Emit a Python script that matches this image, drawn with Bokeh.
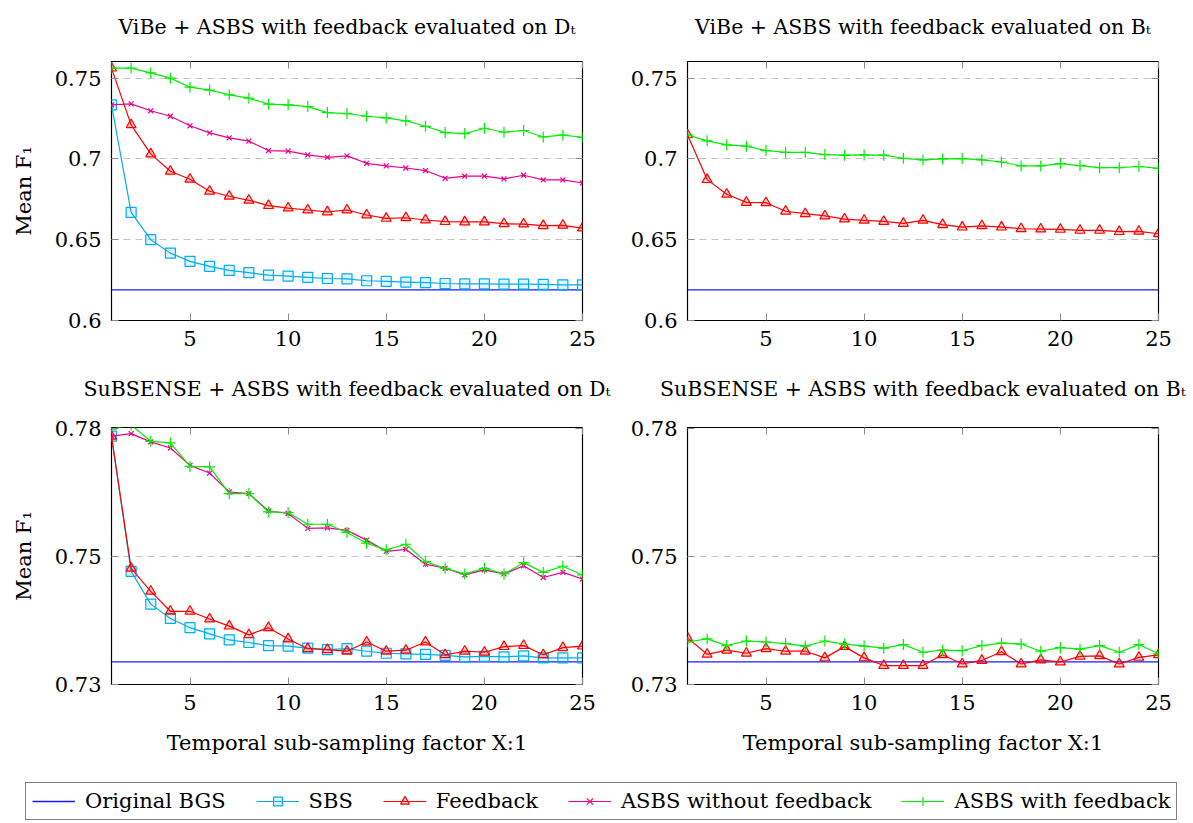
from bokeh.plotting import figure
from bokeh.layouts import column, row
from bokeh.models import (Range1d, FixedTicker, LinearAxis, Legend, LegendItem,
                          CustomLabelingPolicy)
from bokeh.embed import file_html
from bokeh.resources import INLINE

# ---------------- data ----------------
x = list(range(1, 26))
x_ticks = [5, 10, 15, 20, 25]

# ViBe, evaluated on D_t
vibe_dt_bgs = 0.619
vibe_dt_sbs = [0.7335, 0.6669, 0.6500, 0.6417, 0.6366, 0.6335, 0.6310, 0.6296, 0.6281, 0.6275,
               0.6267, 0.6260, 0.6258, 0.6246, 0.6242, 0.6238, 0.6234, 0.6229, 0.6227, 0.6227,
               0.6225, 0.6225, 0.6223, 0.6221, 0.6221]
vibe_dt_feedback = [0.7562, 0.7211, 0.7031, 0.6924, 0.6874, 0.6800, 0.6769, 0.6744, 0.6711, 0.6696,
                    0.6684, 0.6672, 0.6684, 0.6653, 0.6632, 0.6636, 0.6622, 0.6612, 0.6610, 0.6610,
                    0.6599, 0.6597, 0.6587, 0.6589, 0.6572]
vibe_dt_asbs_nofb = [0.7335, 0.7341, 0.7298, 0.7264, 0.7205, 0.7161, 0.7130, 0.7110, 0.7052, 0.7048,
                     0.7025, 0.7010, 0.7019, 0.6973, 0.6957, 0.6944, 0.6928, 0.6880, 0.6893, 0.6893,
                     0.6876, 0.6899, 0.6870, 0.6870, 0.6851]
vibe_dt_asbs_fb = [0.7562, 0.7562, 0.7533, 0.7500, 0.7444, 0.7426, 0.7397, 0.7376, 0.7339, 0.7335,
                   0.7324, 0.7287, 0.7281, 0.7264, 0.7254, 0.7236, 0.7202, 0.7163, 0.7157, 0.7190,
                   0.7165, 0.7176, 0.7136, 0.7147, 0.7134]

# ViBe, evaluated on B_t
vibe_bt_bgs = 0.619
vibe_bt_feedback = [0.7149, 0.6872, 0.6781, 0.6731, 0.6729, 0.6676, 0.6661, 0.6647, 0.6628, 0.6620,
                    0.6613, 0.6601, 0.6620, 0.6593, 0.6578, 0.6586, 0.6578, 0.6568, 0.6566, 0.6564,
                    0.6558, 0.6558, 0.6550, 0.6552, 0.6537]
vibe_bt_asbs_fb = [0.7149, 0.7112, 0.7087, 0.7079, 0.7052, 0.7041, 0.7041, 0.7027, 0.7023, 0.7025,
                   0.7023, 0.7004, 0.6994, 0.7000, 0.7002, 0.6994, 0.6981, 0.6957, 0.6957, 0.6971,
                   0.6959, 0.6946, 0.6946, 0.6953, 0.6942]

# SuBSENSE, evaluated on D_t
sub_dt_bgs = 0.7294
sub_dt_sbs = [0.7735, 0.7471, 0.7407, 0.7379, 0.7361, 0.7349, 0.7337, 0.7332, 0.7326, 0.7325,
              0.7321, 0.7318, 0.7320, 0.7315, 0.7311, 0.7310, 0.7309, 0.7307, 0.7304, 0.7305,
              0.7304, 0.7306, 0.7302, 0.7302, 0.7302]
sub_dt_feedback = [0.7735, 0.7477, 0.7432, 0.7393, 0.7393, 0.7378, 0.7364, 0.7347, 0.7361, 0.7339,
                   0.7320, 0.7318, 0.7315, 0.7333, 0.7315, 0.7317, 0.7333, 0.7308, 0.7315, 0.7313,
                   0.7324, 0.7326, 0.7308, 0.7322, 0.7325]
sub_dt_asbs_nofb = [0.7735, 0.7740, 0.7724, 0.7712, 0.7678, 0.7663, 0.7626, 0.7623, 0.7589, 0.7584,
                    0.7555, 0.7556, 0.7551, 0.7532, 0.7510, 0.7514, 0.7485, 0.7477, 0.7464, 0.7474,
                    0.7466, 0.7482, 0.7459, 0.7469, 0.7456]
sub_dt_asbs_fb = [0.7749, 0.7757, 0.7725, 0.7722, 0.7676, 0.7675, 0.7623, 0.7623, 0.7587, 0.7586,
                  0.7563, 0.7563, 0.7547, 0.7526, 0.7513, 0.7524, 0.7490, 0.7477, 0.7466, 0.7477,
                  0.7466, 0.7488, 0.7469, 0.7481, 0.7464]

# SuBSENSE, evaluated on B_t
sub_bt_bgs = 0.7294
sub_bt_feedback = [0.7341, 0.7309, 0.7317, 0.7311, 0.7320, 0.7315, 0.7315, 0.7302, 0.7324, 0.7302,
                   0.7287, 0.7287, 0.7287, 0.7308, 0.7290, 0.7297, 0.7314, 0.7290, 0.7298, 0.7294,
                   0.7305, 0.7306, 0.7290, 0.7303, 0.7308]
sub_bt_asbs_fb = [0.7333, 0.7339, 0.7326, 0.7335, 0.7333, 0.7330, 0.7325, 0.7335, 0.7329, 0.7325,
                  0.7321, 0.7328, 0.7313, 0.7317, 0.7316, 0.7326, 0.7331, 0.7329, 0.7315, 0.7322,
                  0.7319, 0.7326, 0.7313, 0.7328, 0.7310]

top_yticks = [0.6, 0.65, 0.7, 0.75]
top_ylabels = {0.6: "0.6", 0.65: "0.65", 0.7: "0.7", 0.75: "0.75"}
bot_yticks = [0.725, 0.75, 0.775]
bot_ylabels = {0.725: "0.73", 0.75: "0.75", 0.775: "0.78"}

series_names = ["Original BGS", "SBS", "Feedback", "ASBS without feedback", "ASBS with feedback"]

# ---------------- style ----------------
FONT = "DejaVu Serif"
FS = "21px"
C_BGS = "#1a1aff"
C_SBS = "#00AEEF"
C_FB = "#FF0000"
C_NOFB = "#EC008C"
C_ASBS = "#00EE00"
TICK_C = "#8a8a8a"


def style_axis(ax, labels=True):
    ax.axis_line_color = None
    ax.major_tick_in = 7
    ax.major_tick_out = 0
    ax.major_tick_line_color = TICK_C
    ax.major_tick_line_width = 1
    ax.minor_tick_line_color = None
    ax.major_label_text_font = FONT
    ax.major_label_text_font_size = FS
    ax.major_label_text_color = "black"
    ax.axis_label_text_font = FONT
    ax.axis_label_text_font_size = FS
    ax.axis_label_text_font_style = "normal"
    ax.axis_label_text_color = "black"
    if not labels:
        # tick marks only: no label is drawn
        ax.major_label_text_font_size = "0px"
        ax.major_label_policy = CustomLabelingPolicy(code="return new Set()")
        ax.major_label_standoff = 0


def make_panel(title, width, height, ylo, yhi, yticks, ylabels, grid_ticks,
               bl, br, bt, bb, title_gap, ylabel=None, xlabel=None):
    p = figure(width=width, height=height, x_range=Range1d(1, 25), y_range=Range1d(ylo, yhi),
               output_backend="svg", toolbar_location=None,
               min_border_left=bl, min_border_right=br, min_border_top=bt, min_border_bottom=bb)
    p.title.text = title
    p.title.align = "center"
    p.title.text_font = FONT
    p.title.text_font_size = "20.5px"
    p.title.text_font_style = "normal"
    p.title.text_color = "black"
    p.title.standoff = 8
    p.outline_line_color = "black"
    p.outline_line_width = 1.2
    p.outline_line_alpha = 1.0
    p.background_fill_color = "white"
    p.border_fill_color = "white"

    p.xaxis.ticker = FixedTicker(ticks=x_ticks)
    p.yaxis.ticker = FixedTicker(ticks=yticks)
    p.yaxis.major_label_overrides = ylabels
    style_axis(p.xaxis[0])
    style_axis(p.yaxis[0])
    p.xaxis.major_label_standoff = 10
    p.yaxis.major_label_standoff = 10
    if ylabel:
        p.yaxis.axis_label = ylabel
        p.yaxis.axis_label_standoff = 16
    if xlabel:
        p.xaxis.axis_label = xlabel
        p.xaxis.axis_label_standoff = 18

    # inward tick marks on the right and top frame edges
    ra = LinearAxis(ticker=FixedTicker(ticks=yticks))
    style_axis(ra, labels=False)
    p.add_layout(ra, "right")
    ta = LinearAxis(ticker=FixedTicker(ticks=x_ticks))
    style_axis(ta, labels=False)
    p.add_layout(ta, "above")
    # invisible spacer between the frame and the title
    sp = LinearAxis(ticker=FixedTicker(ticks=x_ticks))
    style_axis(sp, labels=False)
    sp.major_tick_in = 0
    sp.major_tick_out = title_gap
    sp.major_tick_line_color = None
    p.add_layout(sp, "above")

    p.xgrid.visible = False
    p.ygrid.ticker = FixedTicker(ticks=grid_ticks)
    p.ygrid.grid_line_color = "#c4c4c4"
    p.ygrid.grid_line_dash = "7 5"
    p.ygrid.grid_line_width = 1.2
    return p


def draw_bgs(p, val):
    return p.line(x, [val] * len(x), line_color=C_BGS, line_width=1.3)


def draw_sbs(p, ys):
    l = p.line(x, ys, line_color=C_SBS, line_width=1.2)
    m = p.scatter(x, ys, marker="square", size=10, line_color=C_SBS, fill_color=C_SBS,
                  fill_alpha=0.12, line_width=1.2)
    return [l, m]


def draw_fb(p, ys):
    l = p.line(x, ys, line_color=C_FB, line_width=1.2)
    m = p.scatter(x, ys, marker="triangle", size=10, line_color=C_FB, fill_color=C_FB,
                  fill_alpha=0.2, line_width=1.2)
    return [l, m]


def draw_nofb(p, ys):
    l = p.line(x, ys, line_color=C_NOFB, line_width=1.2)
    m = p.scatter(x, ys, marker="x", size=7, line_color=C_NOFB, line_width=1.2)
    return [l, m]


def draw_asbs(p, ys):
    l = p.line(x, ys, line_color=C_ASBS, line_width=1.2)
    m = p.scatter(x, ys, marker="cross", size=11, line_color=C_ASBS, line_width=1.2)
    return [l, m]


W_L, W_R = 616, 577
H_T, H_B = 366, 404

p1 = make_panel("ViBe + ASBS with feedback evaluated on D\u209c", W_L, H_T, 0.6, 0.7603,
                top_yticks, top_ylabels, [0.65, 0.7, 0.75], 111, 34, 61, 46, 19,
                ylabel="Mean F\u2081")
draw_bgs(p1, vibe_dt_bgs)
draw_sbs(p1, vibe_dt_sbs)
draw_fb(p1, vibe_dt_feedback)
draw_nofb(p1, vibe_dt_asbs_nofb)
draw_asbs(p1, vibe_dt_asbs_fb)

p2 = make_panel("ViBe + ASBS with feedback evaluated on B\u209c", W_R, H_T, 0.6, 0.7603,
                top_yticks, top_ylabels, [0.65, 0.7, 0.75], 71, 35, 61, 46, 19)
draw_bgs(p2, vibe_bt_bgs)
draw_fb(p2, vibe_bt_feedback)
draw_asbs(p2, vibe_bt_asbs_fb)

p3 = make_panel("SuBSENSE + ASBS with feedback evaluated on D\u209c", W_L, H_B, 0.725, 0.7752,
                bot_yticks, bot_ylabels, [0.75], 111, 34, 61, 86, 23,
                ylabel="Mean F\u2081", xlabel="Temporal sub-sampling factor X:1")
draw_bgs(p3, sub_dt_bgs)
draw_sbs(p3, sub_dt_sbs)
draw_fb(p3, sub_dt_feedback)
draw_nofb(p3, sub_dt_asbs_nofb)
draw_asbs(p3, sub_dt_asbs_fb)

p4 = make_panel("SuBSENSE + ASBS with feedback evaluated on B\u209c", W_R, H_B, 0.725, 0.7752,
                bot_yticks, bot_ylabels, [0.75], 71, 35, 61, 86, 23,
                xlabel="Temporal sub-sampling factor X:1")
draw_bgs(p4, sub_bt_bgs)
draw_fb(p4, sub_bt_feedback)
draw_asbs(p4, sub_bt_asbs_fb)

# ---------------- legend strip ----------------
lf = figure(width=1193, height=53, x_range=Range1d(-10, -9), y_range=Range1d(-10, -9),
            output_backend="svg", toolbar_location=None, x_axis_type=None, y_axis_type=None,
            min_border=0)
lf.grid.visible = False
lf.outline_line_color = None
r_bgs = draw_bgs(lf, vibe_dt_bgs)
r_sbs = draw_sbs(lf, vibe_dt_sbs)
r_fb = draw_fb(lf, vibe_dt_feedback)
r_nofb = draw_nofb(lf, vibe_dt_asbs_nofb)
r_asbs = draw_asbs(lf, vibe_dt_asbs_fb)
legend = Legend(items=[LegendItem(label=series_names[0], renderers=[r_bgs]),
                       LegendItem(label=series_names[1], renderers=r_sbs),
                       LegendItem(label=series_names[2], renderers=r_fb),
                       LegendItem(label=series_names[3], renderers=r_nofb),
                       LegendItem(label=series_names[4], renderers=r_asbs)],
                orientation="horizontal", location=(25, 3),
                border_line_color="black", border_line_width=1.2,
                label_text_font=FONT, label_text_font_size=FS, label_text_color="black",
                glyph_width=43, glyph_height=22, label_standoff=10, spacing=30, padding=6,
                margin=0, background_fill_alpha=1.0)
lf.add_layout(legend, "center")

layout = column(row(p1, p2), row(p3, p4), lf)
open("out.html", "w").write(file_html(layout, INLINE))
